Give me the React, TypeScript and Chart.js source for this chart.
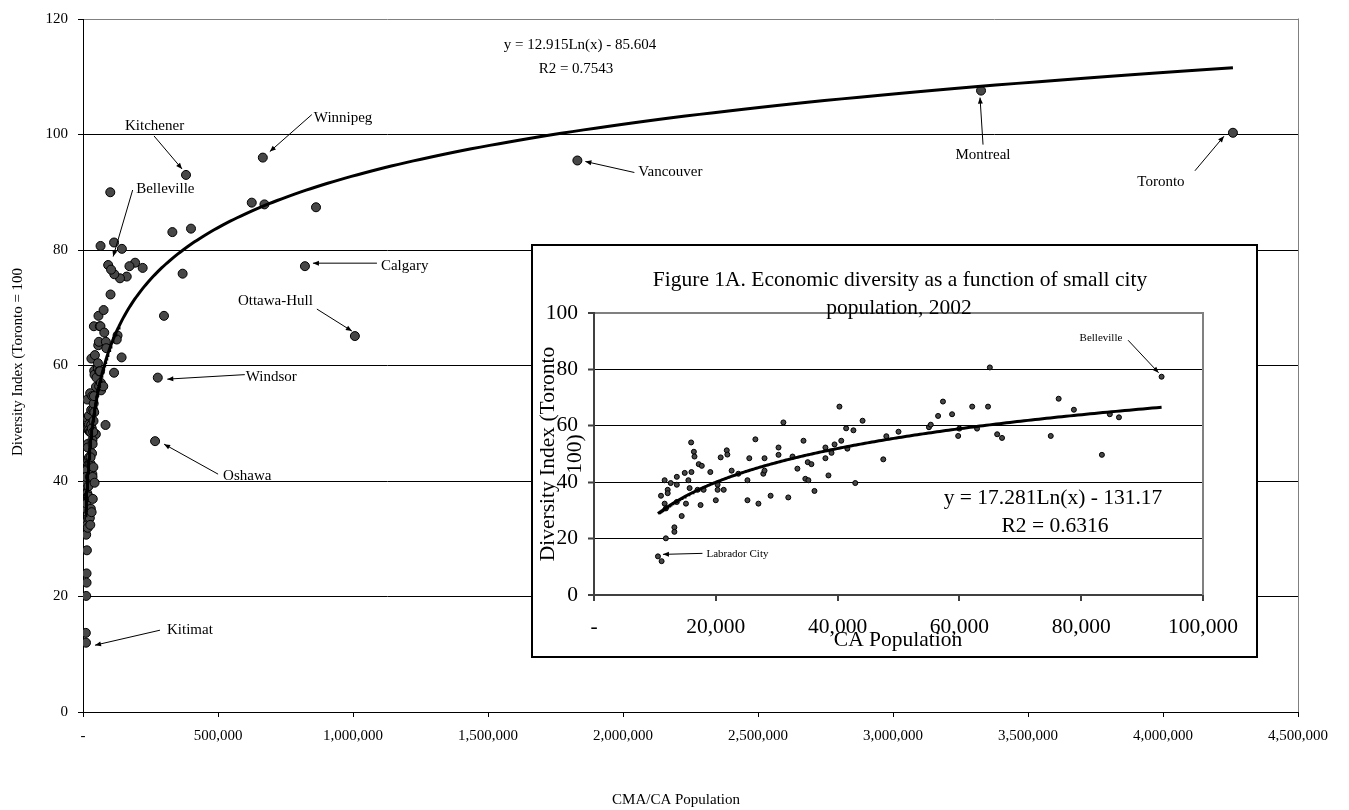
import React, { useEffect, useRef } from 'react';
import { Chart, registerables } from 'chart.js';

Chart.register(...registerables);

const SERIF = "'Liberation Serif', 'Times New Roman', Times, serif";

// ---------- Small cities (CA, population < 100,000): shown in the inset and in the main chart
// first three entries are the labelled points
const smallCityLabels = ['Belleville', 'Labrador City', 'Kitimat'];
const smallCityPopulation = [
  93200, 10500, 11100,
  40300, 31100, 44100, 41400, 42600, 55000, 55300, 48000, 50000, 47500,
  15950, 16400, 16500, 17200, 17700, 21800, 21900, 20800, 26500, 25500,
  28000, 30300, 30300, 32600, 34400, 33400, 35100, 35700, 38000, 38000,
  39000, 39500, 40600, 41600, 16000, 14900, 15500, 13600, 13600, 12600,
  11600, 11000, 12100, 12100, 11600, 11800, 13600, 15100, 15700, 17000,
  18000, 17500, 14400, 13200, 13200, 11800, 19100, 20300, 20300, 21300,
  20000, 22600, 23700, 25200, 25200, 27000, 27800, 28000, 29000, 31900,
  34700, 35200, 36200, 38500, 42900, 65000, 57300, 62100, 64700, 56500,
  58800, 76300, 78800, 84700, 86200, 60000, 62900, 59800, 66200, 67000,
  75000, 83400,
];
const smallCityIndex = [
  77.4, 13.7, 12.0,
  66.8, 61.2, 61.8, 59.1, 58.4, 59.5, 60.4, 56.3, 57.9, 48.1,
  54.1, 50.8, 49.1, 46.4, 45.8, 51.3, 49.8, 48.8, 55.2, 48.5,
  48.5, 52.3, 49.7, 49.1, 54.7, 44.8, 47.1, 46.4, 52.3, 48.5,
  50.4, 53.4, 54.7, 51.9, 43.6, 43.3, 40.7, 41.9, 39.1, 39.7,
  40.7, 35.2, 37.3, 36.1, 32.4, 30.7, 33.0, 32.4, 37.9, 37.3,
  37.3, 31.9, 28.0, 24.0, 22.4, 20.1, 43.6, 39.1, 37.3, 37.3,
  33.6, 44.1, 43.0, 40.7, 33.6, 32.4, 43.0, 44.1, 35.2, 34.6,
  41.2, 40.7, 36.9, 42.4, 39.7, 80.7, 68.6, 66.8, 66.8, 63.5,
  64.1, 69.6, 65.7, 64.1, 63.0, 59.0, 59.0, 56.4, 57.0, 55.7,
  56.4, 49.7,
];

// ---------- Larger cities (CMA / CA >= 100,000): main chart only
const largeCityLabels = ['Toronto', 'Montreal', 'Vancouver', 'Ottawa-Hull', 'Calgary', 'Winnipeg', 'Kitchener', 'Windsor', 'Oshawa'];
const largeCityPopulation = [
  4259000, 3326000, 1831000, 1007000, 822000, 666000, 381500, 277000, 267000,
  863000, 672000, 625000, 400000, 369000, 331000, 300000, 221000, 193000,
  172000, 162000, 144000, 137000, 128000, 125000, 143000, 116000, 115000,
  115000, 104000, 101000, 102000,
];
const largeCityIndex = [
  100.3, 107.6, 95.5, 65.1, 77.2, 96.0, 93.0, 57.9, 46.9,
  87.4, 87.9, 88.2, 83.7, 75.9, 83.1, 68.6, 76.9, 77.8,
  77.2, 75.4, 80.2, 75.1, 65.2, 64.5, 61.4, 75.8, 81.3,
  58.75, 76.6, 90.0, 72.3,
];

// ---------- Trend lines (logarithmic fits shown on the chart)
const mainTrendCoef = [12.915, -85.604];
const insetTrendCoef = [17.281, -131.17];
const mainTrendText = ['y = 12.915Ln(x) - 85.604', 'R2 = 0.7543'];
const insetTrendText = ['y = 17.281Ln(x) - 131.17', 'R2 = 0.6316'];

// ---------- Axes
const mainXTicks = [0, 500000, 1000000, 1500000, 2000000, 2500000, 3000000, 3500000, 4000000, 4500000];
const mainYTicks = [0, 20, 40, 60, 80, 100, 120];
const insetXTicks = [0, 20000, 40000, 60000, 80000, 100000];
const insetYTicks = [0, 20, 40, 60, 80, 100];
const mainYTitle = 'Diversity Index (Toronto = 100';
const mainXTitle = 'CMA/CA Population';
const insetTitle = ['Figure 1A. Economic diversity as a function of small city', 'population, 2002'];
const insetYTitle = ['Diversity Index (Toronto', '100)'];
const insetXTitle = 'CA Population';

const fmt = (v: any) => (Number(v) === 0 ? '-' : Number(v).toLocaleString('en-US'));

function toPoints(xs: number[], ys: number[]) {
  return xs.map((x, i) => ({ x, y: ys[i] }));
}

function trendSeries(coef: number[], xs: number[]) {
  const lo = Math.min(...xs);
  const hi = Math.max(...xs);
  const n = 260;
  const pts: { x: number; y: number }[] = [];
  for (let i = 0; i <= n; i++) {
    const x = lo * Math.pow(hi / lo, i / n);
    pts.push({ x, y: coef[0] * Math.log(x) + coef[1] });
  }
  return pts;
}

type Callout = {
  ds: number; index: number; text: string; size: number;
  dx: number; dy: number; align: CanvasTextAlign;
  ax1: number; ay1: number; ax2: number; ay2: number;
};
type TextItem = { text: string; x: number; y: number; size: number; align?: CanvasTextAlign; rotate?: boolean };

function makeOverlay(cfg: {
  background?: string; border?: number; frameColor: string; frameWidth: number;
  callouts: Callout[]; texts: TextItem[];
}) {
  return {
    id: 'overlay',
    beforeDraw(chart: any) {
      if (cfg.background) {
        const ctx = chart.ctx;
        ctx.save();
        ctx.fillStyle = cfg.background;
        ctx.fillRect(0, 0, chart.width, chart.height);
        ctx.restore();
      }
    },
    beforeDatasetsDraw(chart: any) {
      const ctx = chart.ctx;
      const { right, top, bottom } = chart.chartArea;
      ctx.save();
      ctx.strokeStyle = cfg.frameColor;
      ctx.lineWidth = cfg.frameWidth;
      const x = cfg.frameWidth % 2 === 1 ? Math.round(right) + 0.5 : Math.round(right);
      ctx.beginPath();
      ctx.moveTo(x, top - cfg.frameWidth / 2);
      ctx.lineTo(x, bottom);
      ctx.stroke();
      ctx.restore();
    },
    afterDatasetsDraw(chart: any) {
      const ctx = chart.ctx;
      ctx.save();
      ctx.fillStyle = '#000';
      ctx.strokeStyle = '#000';
      for (const c of cfg.callouts) {
        const el = chart.getDatasetMeta(c.ds).data[c.index];
        if (!el) continue;
        const px = el.x;
        const py = el.y;
        const sx = px + c.ax1, sy = py + c.ay1, ex = px + c.ax2, ey = py + c.ay2;
        ctx.lineWidth = 1;
        ctx.beginPath();
        ctx.moveTo(sx, sy);
        ctx.lineTo(ex, ey);
        ctx.stroke();
        const ang = Math.atan2(ey - sy, ex - sx);
        const L = 6, W = 2.5;
        const cos = Math.cos(ang), sin = Math.sin(ang);
        ctx.beginPath();
        ctx.moveTo(ex, ey);
        ctx.lineTo(ex - L * cos + W * sin, ey - L * sin - W * cos);
        ctx.lineTo(ex - L * cos - W * sin, ey - L * sin + W * cos);
        ctx.closePath();
        ctx.fill();
        ctx.font = `${c.size}px ${SERIF}`;
        ctx.textAlign = c.align;
        ctx.textBaseline = 'middle';
        ctx.fillText(c.text, px + c.dx, py + c.dy);
      }
      for (const t of cfg.texts) {
        ctx.save();
        ctx.font = `${t.size}px ${SERIF}`;
        ctx.textAlign = t.align || 'center';
        ctx.textBaseline = 'middle';
        ctx.translate(t.x, t.y);
        if (t.rotate) ctx.rotate(-Math.PI / 2);
        ctx.fillText(t.text, 0, 0);
        ctx.restore();
      }
      ctx.restore();
    },
    afterDraw(chart: any) {
      if (cfg.border) {
        const ctx = chart.ctx;
        ctx.save();
        ctx.strokeStyle = '#000';
        ctx.lineWidth = cfg.border;
        ctx.strokeRect(cfg.border / 2, cfg.border / 2, chart.width - cfg.border, chart.height - cfg.border);
        ctx.restore();
      }
    },
  };
}

const markerMain = {
  pointRadius: 4.5, pointBorderWidth: 1, pointBackgroundColor: '#474747', pointBorderColor: '#000',
  showLine: false,
};
const markerInset = {
  pointRadius: 2.5, pointBorderWidth: 1, pointBackgroundColor: '#474747', pointBorderColor: '#000',
  showLine: false,
};

function mainConfig(): any {
  const allPop = [...smallCityPopulation, ...largeCityPopulation];
  const overlay = makeOverlay({
    frameColor: '#808080',
    frameWidth: 1,
    callouts: [
      { ds: 1, index: largeCityLabels.indexOf('Toronto'), text: 'Toronto', size: 15, dx: -72, dy: 49, align: 'center', ax1: -38, ay1: 38, ax2: -9, ay2: 3.5 },
      { ds: 1, index: largeCityLabels.indexOf('Montreal'), text: 'Montreal', size: 15, dx: 2, dy: 64, align: 'center', ax1: 2, ay1: 54, ax2: -1, ay2: 7 },
      { ds: 1, index: largeCityLabels.indexOf('Vancouver'), text: 'Vancouver', size: 15, dx: 61, dy: 12, align: 'left', ax1: 57, ay1: 12, ax2: 8, ay2: 1 },
      { ds: 1, index: largeCityLabels.indexOf('Ottawa-Hull'), text: 'Ottawa-Hull', size: 15, dx: -117, dy: -35, align: 'left', ax1: -38, ay1: -27, ax2: -3, ay2: -5 },
      { ds: 1, index: largeCityLabels.indexOf('Calgary'), text: 'Calgary', size: 15, dx: 76, dy: 0, align: 'left', ax1: 72, ay1: -3, ax2: 8, ay2: -3 },
      { ds: 1, index: largeCityLabels.indexOf('Winnipeg'), text: 'Winnipeg', size: 15, dx: 51, dy: -40, align: 'left', ax1: 49, ay1: -43, ax2: 7, ay2: -6 },
      { ds: 1, index: largeCityLabels.indexOf('Kitchener'), text: 'Kitchener', size: 15, dx: -61, dy: -49, align: 'left', ax1: -32, ay1: -39, ax2: -4, ay2: -6 },
      { ds: 1, index: largeCityLabels.indexOf('Windsor'), text: 'Windsor', size: 15, dx: 88, dy: -1, align: 'left', ax1: 87, ay1: -3, ax2: 9.5, ay2: 1.5 },
      { ds: 1, index: largeCityLabels.indexOf('Oshawa'), text: 'Oshawa', size: 15, dx: 68, dy: 35, align: 'left', ax1: 63, ay1: 33, ax2: 9, ay2: 3 },
      { ds: 2, index: smallCityLabels.indexOf('Belleville'), text: 'Belleville', size: 15, dx: 28, dy: -76, align: 'left', ax1: 24.5, ay1: -75, ax2: 5, ay2: -8.5 },
      { ds: 2, index: smallCityLabels.indexOf('Kitimat'), text: 'Kitimat', size: 15, dx: 81, dy: -13, align: 'left', ax1: 74, ay1: -12.5, ax2: 9, ay2: 2.5 },
    ],
    texts: [
      { text: mainTrendText[0], x: 580, y: 45, size: 15 },
      { text: mainTrendText[1], x: 576, y: 69, size: 15 },
      { text: mainYTitle, x: 18, y: 362, size: 15, rotate: true },
      { text: mainXTitle, x: 676, y: 800, size: 15 },
    ],
  });
  return {
    type: 'scatter',
    data: {
      datasets: [
        { data: trendSeries(mainTrendCoef, allPop), showLine: true, pointRadius: 0, borderColor: '#000', borderWidth: 3, tension: 0 },
        { data: toPoints(largeCityPopulation, largeCityIndex), ...markerMain },
        { data: toPoints(smallCityPopulation, smallCityIndex), ...markerMain },
      ],
    },
    options: {
      animation: false,
      responsive: false,
      devicePixelRatio: 1,
      events: [],
      layout: { padding: { left: 0, top: 12, right: 51, bottom: 0 } },
      plugins: { legend: { display: false }, tooltip: { enabled: false } },
      scales: {
        x: {
          type: 'linear', min: 0, max: 4500000,
          afterBuildTicks: (s: any) => { s.ticks = mainXTicks.map((v) => ({ value: v })); },
          afterFit: (s: any) => { s.height = 98; },
          grid: { drawOnChartArea: false, drawTicks: true, tickLength: 5, color: '#000', lineWidth: 1 },
          border: { display: true, color: '#000', width: 1 },
          ticks: { autoSkip: false, maxRotation: 0, minRotation: 0, padding: 10, color: '#000', font: { family: SERIF, size: 15 }, callback: fmt },
        },
        y: {
          type: 'linear', min: 0, max: 120,
          afterBuildTicks: (s: any) => { s.ticks = mainYTicks.map((v) => ({ value: v })); },
          afterFit: (s: any) => { s.width = 83; },
          grid: {
            drawTicks: true, tickLength: 5, tickColor: '#000', lineWidth: 1,
            color: (c: any) => (c.tick && c.tick.value === 120 ? '#808080' : '#000'),
          },
          border: { display: true, color: '#000', width: 1 },
          ticks: { padding: 10, color: '#000', font: { family: SERIF, size: 15 } },
        },
      },
    },
    plugins: [overlay],
  };
}

function insetConfig(): any {
  const overlay = makeOverlay({
    background: '#fff',
    border: 2,
    frameColor: '#808080',
    frameWidth: 2,
    callouts: [
      { ds: 1, index: smallCityLabels.indexOf('Belleville'), text: 'Belleville', size: 11, dx: -82, dy: -39, align: 'left', ax1: -33.5, ay1: -36.5, ax2: -3, ay2: -4 },
      { ds: 1, index: smallCityLabels.indexOf('Labrador City'), text: 'Labrador City', size: 11, dx: 48.5, dy: -2.5, align: 'left', ax1: 44.5, ay1: -3, ax2: 5, ay2: -2 },
    ],
    texts: [
      { text: insetTitle[0], x: 369, y: 36, size: 21.5 },
      { text: insetTitle[1], x: 368, y: 64, size: 21.5 },
      { text: insetYTitle[0], x: 17, y: 210, size: 21.5, rotate: true },
      { text: insetYTitle[1], x: 44, y: 210, size: 21.5, rotate: true },
      { text: insetXTitle, x: 367, y: 396, size: 21.5 },
      { text: insetTrendText[0], x: 522, y: 254, size: 21.5 },
      { text: insetTrendText[1], x: 524, y: 282, size: 21.5 },
    ],
  });
  return {
    type: 'scatter',
    data: {
      datasets: [
        { data: trendSeries(insetTrendCoef, smallCityPopulation), showLine: true, pointRadius: 0, borderColor: '#000', borderWidth: 3, tension: 0 },
        { data: toPoints(smallCityPopulation, smallCityIndex), ...markerInset },
      ],
    },
    options: {
      animation: false,
      responsive: false,
      devicePixelRatio: 1,
      events: [],
      layout: { padding: { left: 0, top: 69, right: 55, bottom: 0 } },
      plugins: { legend: { display: false }, tooltip: { enabled: false } },
      scales: {
        x: {
          type: 'linear', min: 0, max: 100000,
          afterBuildTicks: (s: any) => { s.ticks = insetXTicks.map((v) => ({ value: v })); },
          afterFit: (s: any) => { s.height = 63; },
          grid: { drawOnChartArea: false, drawTicks: true, tickLength: 6, color: '#404040', lineWidth: 2 },
          border: { display: true, color: '#404040', width: 2 },
          ticks: { autoSkip: false, maxRotation: 0, minRotation: 0, padding: 13, color: '#000', font: { family: SERIF, size: 21.5 }, callback: fmt },
        },
        y: {
          type: 'linear', min: 0, max: 100,
          afterBuildTicks: (s: any) => { s.ticks = insetYTicks.map((v) => ({ value: v })); },
          afterFit: (s: any) => { s.width = 63; },
          grid: {
            drawTicks: true, tickLength: 6, tickColor: '#404040', tickWidth: 2,
            color: (c: any) => (c.tick && c.tick.value === 100 ? '#808080' : c.tick && c.tick.value === 0 ? '#404040' : '#000'),
            lineWidth: (c: any) => (c.tick && (c.tick.value === 100 || c.tick.value === 0) ? 2 : 1),
          },
          border: { display: true, color: '#404040', width: 2 },
          ticks: { padding: 10, color: '#000', font: { family: SERIF, size: 21.5 } },
        },
      },
    },
    plugins: [overlay],
  };
}

export default function App() {
  const mainRef = useRef<HTMLCanvasElement>(null);
  const insetRef = useRef<HTMLCanvasElement>(null);

  useEffect(() => {
    const main = new Chart(mainRef.current as HTMLCanvasElement, mainConfig());
    const inset = new Chart(insetRef.current as HTMLCanvasElement, insetConfig());
    return () => {
      main.destroy();
      inset.destroy();
    };
  }, []);

  return (
    <div style={{ position: 'fixed', left: 0, top: 0, width: 1349, height: 810, background: '#fff', overflow: 'hidden' }}>
      <canvas ref={mainRef} width={1349} height={810} style={{ position: 'absolute', left: 0, top: 0, width: 1349, height: 810 }} />
      <canvas ref={insetRef} width={727} height={414} style={{ position: 'absolute', left: 531, top: 244, width: 727, height: 414 }} />
    </div>
  );
}
